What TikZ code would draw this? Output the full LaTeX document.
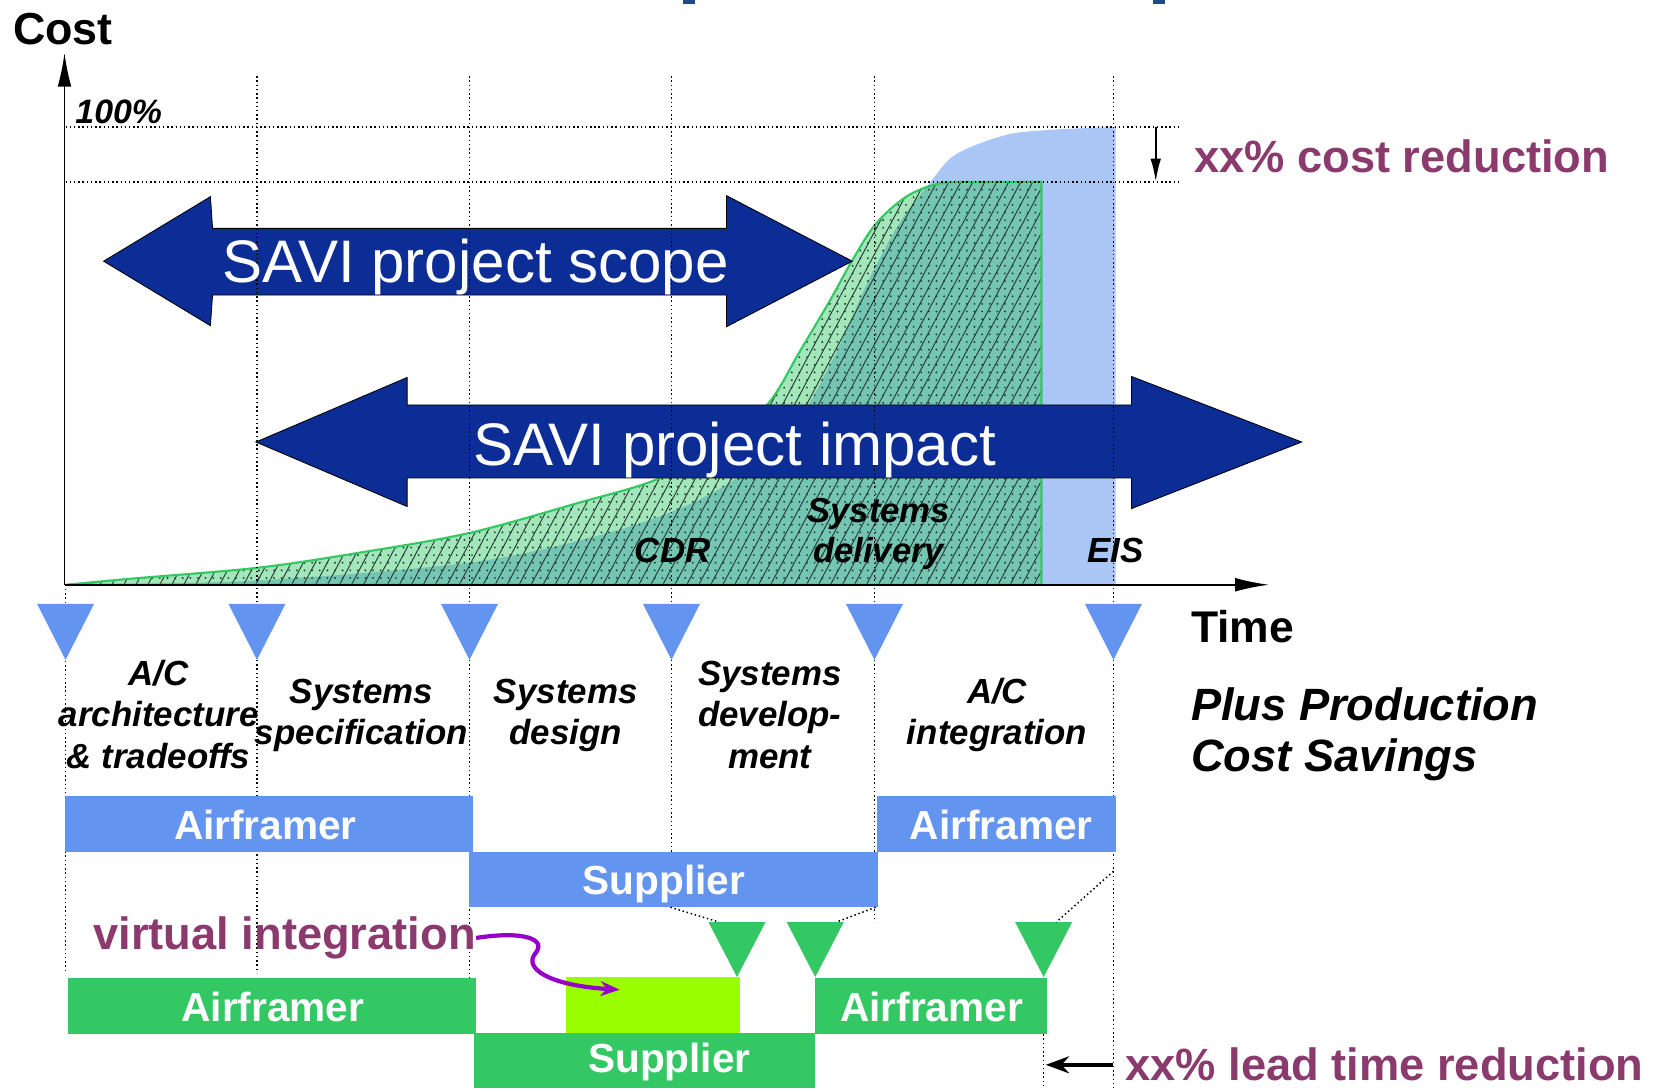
\documentclass[tikz,border=0pt]{standalone}
\usepackage{fontspec}
\setmainfont{Liberation Sans}
\usetikzlibrary{arrows.meta,patterns.meta}
\definecolor{bluebar}{RGB}{98,148,240}
\definecolor{grn}{RGB}{52,200,100}
\definecolor{limeg}{RGB}{153,255,0}
\definecolor{lblue}{RGB}{170,198,245}
\definecolor{navyb}{RGB}{12,45,150}
\definecolor{purp}{RGB}{139,58,110}
\definecolor{viol}{RGB}{150,0,200}
\definecolor{titleb}{RGB}{31,74,138}
\definecolor{patc}{RGB}{35,62,55}
\newcommand\mlines[1]{\begin{tabular}[t]{@{}c@{}}#1\end{tabular}}
\newcommand\mlinesl[1]{\begin{tabular}[t]{@{}l@{}}#1\end{tabular}}
\begin{document}
\begin{tikzpicture}[x=0.5pt,y=-0.5pt,
  gridline/.style={line width=0.7pt, dash pattern=on 0.7pt off 1.3pt, black},
  phase/.style={inner sep=0pt, font=\bfseries\itshape\fontsize{16.5pt}{19.75pt}\selectfont},
  bartxt/.style={inner sep=0pt, text=white, font=\bfseries\fontsize{19.2pt}{22pt}\selectfont, anchor=base},
  purptxt/.style={inner sep=0pt, text=purp, font=\bfseries\fontsize{21.4pt}{24pt}\selectfont, anchor=base west},
  savitxt/.style={inner sep=0pt, text=white, font=\fontsize{28.4pt}{32pt}\selectfont, anchor=base west},
  bigarrow/.style={fill=navyb, draw=black, line width=0.4pt, line join=miter},
  blacktxt/.style={inner sep=0pt, anchor=base west}
]
\useasboundingbox (0,0) rectangle (1568,1029);
\fill[white] (0,0) rectangle (1568,1029);

% cut-off title fragments
\fill[titleb] (646,0) rectangle (657,4);
\fill[titleb] (1090,0) rectangle (1102,4);

% light blue (baseline) cost area
\fill[lblue] (62,553) -- plot[smooth,tension=0.55] coordinates {(62,553) (243,549) (444,532) (560,508) (640,482) (700,450) (750,405) (790,335) (820,268) (850,212) (880,172) (904,146) (950,128) (990,123) (1055,120)} -- (1055,553) -- cycle;

% green (SAVI) cost area
\path[preaction={fill=grn,fill opacity=0.45},
      pattern={Lines[angle=62,distance=5pt,line width=0.45pt]}, pattern color=patc,
      postaction={pattern={Dots[distance=3.6pt,radius=0.5pt]},pattern color=patc},
      postaction={draw=grn,line width=1pt}]
  (62,553) -- plot[smooth,tension=0.55] coordinates {(62,553) (127,547) (243,537) (338,523) (444,504) (549,475) (617,455) (680,425) (727,381) (756,333) (785,284) (805,248) (828,212) (857,186) (886,174) (910,172)} -- (985,172) -- (985,553) -- cycle;

% big navy double arrows
\path[bigarrow] (98,247) -- (199,186) -- (201,216) -- (687,216) -- (687,185) -- (806,247) -- (687,309) -- (687,279) -- (201,279) -- (199,308) -- cycle;
\path[bigarrow] (242,418) -- (385,357) -- (385,383) -- (1070,383) -- (1070,356) -- (1231,418) -- (1070,481) -- (1070,452) -- (385,452) -- (385,479) -- cycle;

% dotted grid
\draw[gridline] (62,120) -- (1116,120);
\draw[gridline] (62,172) -- (1116,172);
\foreach \x/\yb in {243/920, 444/925, 635/806, 827/872, 1053/1029}
  \draw[gridline] (\x,72) -- (\x,\yb);
\draw[gridline] (62,553) -- (62,920);
\draw[gridline] (987,978) -- (987,1029);

% axes
\coordinate (O) at (61,553);
\coordinate (ytip) at (61,50);
\coordinate (xtip) at (1200,553);
\draw[line width=0.8pt, -{Latex[length=16pt,width=6.5pt]}] (O) -- (ytip);
\draw[line width=0.8pt, -{Latex[length=16pt,width=6.5pt]}] (O) -- (xtip);

% milestone triangles
\foreach \x in {62,243,444,635,827,1053}
  \fill[bluebar] ({\x-27},571) -- ({\x+27},571) -- (\x,624) -- cycle;
\foreach \x in {697,771,987}
  \fill[grn] ({\x-27},872) -- ({\x+27},872) -- (\x,924) -- cycle;

% bars
\fill[bluebar] (61,753) rectangle (447,806);
\fill[bluebar] (444,806) rectangle (830,858);
\fill[bluebar] (829,753) rectangle (1055,806);
\fill[grn] (64,925) rectangle (450,978);
\fill[limeg] (535,924) rectangle (700,977);
\fill[grn] (448,977) rectangle (771,1029);
\fill[grn] (771,925) rectangle (990,978);

% dotted diagonals
\draw[gridline] (634,858) -- (680,872);
\draw[gridline] (828,858) -- (791,872);
\draw[gridline] (1053,824) -- (999,872);

% texts
\node[blacktxt, font=\bfseries\fontsize{21.2pt}{24pt}\selectfont] (cost) at (12,42) {Cost};
\node[blacktxt, font=\bfseries\itshape\fontsize{16pt}{19pt}\selectfont] (pct) at (71,117) {100\%};
\node[purptxt] (costred) at (1129,163) {xx\% cost reduction};
\node[savitxt] (scope) at (210,267) {SAVI project scope};
\node[savitxt] (impact) at (447,440) {SAVI project impact};
\node[phase, anchor=base west] (cdr) at (600,532) {CDR};
\node[phase, anchor=base, font=\bfseries\itshape\fontsize{16.4pt}{19pt}\selectfont] (sysdel) at (831,494) {\mlines{Systems\\delivery}};
\node[phase, anchor=base west] (eis) at (1028,532) {EIS};
\node[blacktxt, font=\bfseries\fontsize{21pt}{24pt}\selectfont] (time) at (1126,608) {Time};
\node[blacktxt, font=\bfseries\itshape\fontsize{21.4pt}{24.5pt}\selectfont] (plus) at (1126,681) {\mlinesl{Plus Production\\Cost Savings}};

\node[phase, anchor=base] (ph1) at (150,648) {\mlines{A/C\\architecture\\\& tradeoffs}};
\node[phase, anchor=base] (ph2) at (342,665) {\mlines{Systems\\specification}};
\node[phase, anchor=base] (ph3) at (535,665) {\mlines{Systems\\design}};
\node[phase, anchor=base] (ph4) at (728,648) {\mlines{Systems\\develop-\\ment}};
\node[phase, anchor=base] (ph5) at (943,665) {\mlines{A/C\\integration}};

\node[bartxt] (baf1) at (251,794) {Airframer};
\node[bartxt] (bsup) at (628,846) {Supplier};
\node[bartxt] (baf2) at (947,794) {Airframer};
\node[bartxt] (gaf1) at (258,966) {Airframer};
\node[bartxt] (gsup) at (633,1014) {Supplier};
\node[bartxt] (gaf2) at (881,966) {Airframer};

\node[purptxt] (vi) at (88,898) {virtual integration};
\node[purptxt] (ltr) at (1064,1022) {xx\% lead time reduction};

% connectors
\coordinate (vitip) at (586,936);
\draw[viol, line width=2pt, -{Stealth[length=9pt,width=7pt]}] (vi.east) .. controls (495,880) and (518,888) .. (506,902) .. controls (495,916) and (520,932) .. (vitip);

\coordinate (cr1) at (1093,120);
\coordinate (cr2) at (1093,172);
\draw[line width=1pt, -{Latex[length=11pt,width=5pt]}] (cr1) -- (cr2);

\coordinate (lt1) at (1053,1007);
\coordinate (lt2) at (989,1007);
\draw[line width=2pt, -{Stealth[length=11pt,width=8pt]}] (lt1) -- (lt2);
\end{tikzpicture}
\end{document}
